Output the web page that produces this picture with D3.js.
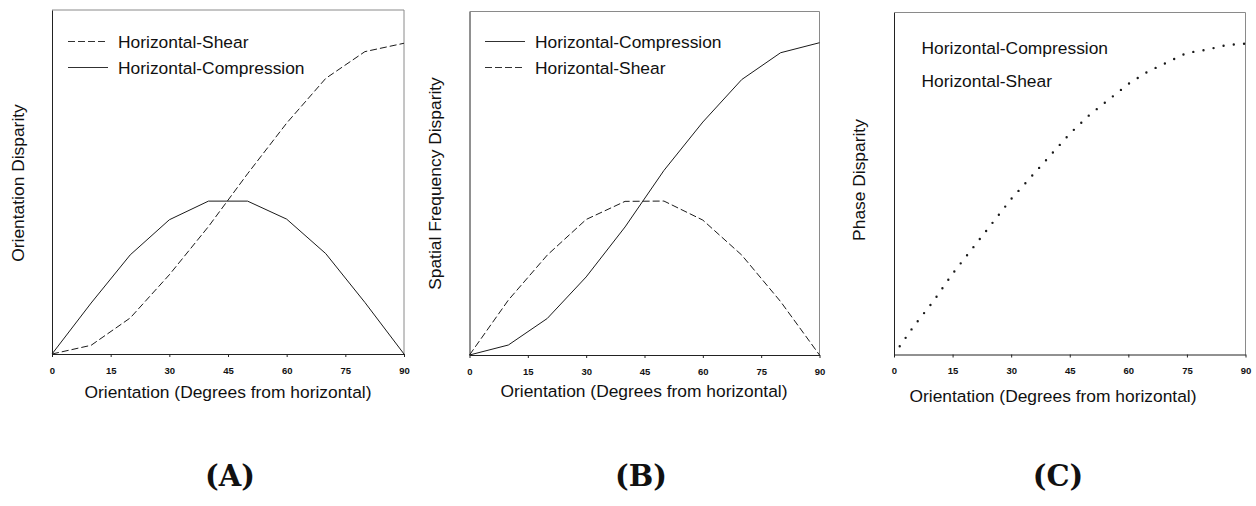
<!DOCTYPE html>
<html>
<head>
<meta charset="utf-8">
<script src="https://cdn.jsdelivr.net/npm/d3@7"></script>
<style>
    body { margin: 0; background: #fff; }
    svg { display: block; font-family: "Liberation Sans", Arial, sans-serif; fill: #111; }
    .tick text { font-size: 9.5px; font-weight: bold; font-family: "Liberation Sans", Arial, sans-serif; fill: #111; }
    .tick line, .domain { stroke: #222; }
    .frame { stroke: #8a8a8a; stroke-width: 1; }
    .label { font-size: 17.4px; }
    .tag { font-family: "DejaVu Serif", serif; font-weight: bold; font-size: 29px; }
</style>
</head>
<body>
<svg id="figure" width="1256" height="506"></svg>
<script>
// x values (degrees) of the sampled curves
const orientation = [0, 10, 20, 30, 40, 50, 60, 70, 80, 90];
const phaseOrientation = [0, 5, 10, 15, 20, 25, 30, 35, 40, 45, 50, 55, 60, 65, 70, 75, 80, 85, 90];
const xTicks = [0, 15, 30, 45, 60, 75, 90];

// (A) orientation disparity
const aShear = [0, 0.028, 0.116, 0.255, 0.41, 0.58, 0.743, 0.887, 0.973, 1.0];
const aCompression = [0, 0.164, 0.319, 0.432, 0.492, 0.492, 0.434, 0.323, 0.166, 0];

// (B) spatial frequency disparity
const bCompression = [0, 0.032, 0.117, 0.25, 0.41, 0.591, 0.746, 0.882, 0.968, 1.0];
const bShear = [0, 0.176, 0.32, 0.434, 0.492, 0.493, 0.432, 0.32, 0.171, 0];

// (C) phase disparity, same for both
const cPhase = [0, 0.09, 0.17, 0.26, 0.34, 0.42, 0.5, 0.57, 0.64, 0.71, 0.77, 0.82, 0.87, 0.91, 0.94, 0.97, 0.98, 0.995, 1.0];

const labelsA = ['Horizontal-Shear', 'Horizontal-Compression'];
const labelsB = ['Horizontal-Compression', 'Horizontal-Shear'];

const dashStyle = {
    solid: null,
    dashed: '7,3',
    dotted: '0,10.3'
};

class DisparityPanel {

    constructor(_config) {
        this.config = {
            parentElement: _config.parentElement,
            left: _config.left,
            right: _config.right,
            top: _config.top,
            bottom: _config.bottom,
            yMax: _config.yMax || 1.1,
            series: _config.series,
            legend: _config.legend,
            yLabel: _config.yLabel,
            xLabel: _config.xLabel,
            tag: _config.tag
        };

        this.initVis();
    }

    initVis() {
        let vis = this;

        vis.svg = d3.select(vis.config.parentElement);
        vis.chart = vis.svg.append('g');

        vis.xScale = d3.scaleLinear()
            .domain([0, 90])
            .range([vis.config.left, vis.config.right]);

        vis.yScale = d3.scaleLinear()
            .domain([0, vis.config.yMax])
            .range([vis.config.bottom, vis.config.top]);

        vis.line = d3.line()
            .x(d => vis.xScale(d[0]))
            .y(d => vis.yScale(d[1]));

        vis.render();
    }

    render() {
        let vis = this;
        const c = vis.config;

        // light frame on top and right
        vis.chart.append('line').attr('class', 'frame')
            .attr('x1', c.left).attr('x2', c.right)
            .attr('y1', c.top).attr('y2', c.top);
        vis.chart.append('line').attr('class', 'frame')
            .attr('x1', c.right).attr('x2', c.right)
            .attr('y1', c.top).attr('y2', c.bottom);

        vis.chart.append('g')
            .attr('transform', `translate(${c.left},0)`)
            .call(d3.axisLeft(vis.yScale).tickValues([]).tickSizeOuter(0));

        vis.chart.append('g')
            .attr('transform', `translate(0,${c.bottom})`)
            .call(d3.axisBottom(vis.xScale).tickValues(xTicks).tickSize(3).tickSizeOuter(0).tickPadding(10));

        // curves
        c.series.forEach(s => {
            const dotted = s.style === 'dotted';
            vis.chart.append('path')
                .datum(d3.zip(s.x, s.values))
                .attr('d', vis.line)
                .attr('fill', 'none')
                .attr('stroke', '#1a1a1a')
                .attr('stroke-width', dotted ? 2.4 : 1)
                .attr('stroke-linecap', dotted ? 'round' : 'butt')
                .attr('stroke-dasharray', dashStyle[s.style])
                .attr('stroke-dashoffset', dotted ? 0.3 : 0);
        });

        // legend
        c.legend.items.forEach((item, i) => {
            const y = c.legend.y[i];
            if (c.legend.lineX) {
                vis.chart.append('line')
                    .attr('x1', c.legend.lineX[0]).attr('x2', c.legend.lineX[1])
                    .attr('y1', y).attr('y2', y)
                    .attr('stroke', '#1a1a1a')
                    .attr('stroke-width', 0.9)
                    .attr('stroke-dasharray', dashStyle[item.style]);
            }
            vis.chart.append('text')
                .attr('class', 'label')
                .attr('x', c.legend.textX)
                .attr('y', y)
                .attr('dy', c.legend.dy)
                .text(item.label);
        });

        vis.chart.append('text')
            .attr('class', 'label')
            .attr('transform', `translate(${c.yLabel.x},${c.yLabel.y}) rotate(-90)`)
            .attr('text-anchor', 'middle')
            .text(c.yLabel.text);

        vis.chart.append('text')
            .attr('class', 'label')
            .attr('x', c.xLabel.x)
            .attr('y', c.xLabel.y)
            .attr('text-anchor', 'middle')
            .text('Orientation (Degrees from horizontal)');

        vis.chart.append('text')
            .attr('class', 'tag')
            .attr('x', c.tag.x)
            .attr('y', c.tag.y)
            .attr('text-anchor', 'middle')
            .text(c.tag.text);
    }
}

new DisparityPanel({
    parentElement: '#figure',
    left: 52, right: 404, top: 10, bottom: 354,
    yMax: 1.107,
    series: [
        {x: orientation, values: aShear, style: 'dashed'},
        {x: orientation, values: aCompression, style: 'solid'}
    ],
    legend: {
        items: [{label: labelsA[0], style: 'dashed'}, {label: labelsA[1], style: 'solid'}],
        lineX: [68, 108], textX: 118, y: [41.5, 67.5], dy: '0.36em'
    },
    yLabel: {text: 'Orientation Disparity', x: 24, y: 183},
    xLabel: {x: 228, y: 398},
    tag: {text: '(A)', x: 230, y: 486}
});

new DisparityPanel({
    parentElement: '#figure',
    left: 469.5, right: 819.5, top: 11.5, bottom: 355,
    yMax: 1.1,
    series: [
        {x: orientation, values: bCompression, style: 'solid'},
        {x: orientation, values: bShear, style: 'dashed'}
    ],
    legend: {
        items: [{label: labelsB[0], style: 'solid'}, {label: labelsB[1], style: 'dashed'}],
        lineX: [485, 525], textX: 535, y: [41.5, 67.5], dy: '0.36em'
    },
    yLabel: {text: 'Spatial Frequency Disparity', x: 440.5, y: 183.5},
    xLabel: {x: 644, y: 397},
    tag: {text: '(B)', x: 641, y: 486}
});

new DisparityPanel({
    parentElement: '#figure',
    left: 894, right: 1245.5, top: 12.5, bottom: 354.5,
    yMax: 1.1,
    series: [
        {x: phaseOrientation, values: cPhase, style: 'dotted'}
    ],
    legend: {
        items: [{label: labelsB[0], style: 'solid'}, {label: labelsB[1], style: 'dashed'}],
        lineX: null, textX: 921.5, y: [54, 87.3], dy: 0
    },
    yLabel: {text: 'Phase Disparity', x: 865, y: 180},
    xLabel: {x: 1053, y: 401.5},
    tag: {text: '(C)', x: 1058, y: 486}
});
</script>
</body>
</html>
